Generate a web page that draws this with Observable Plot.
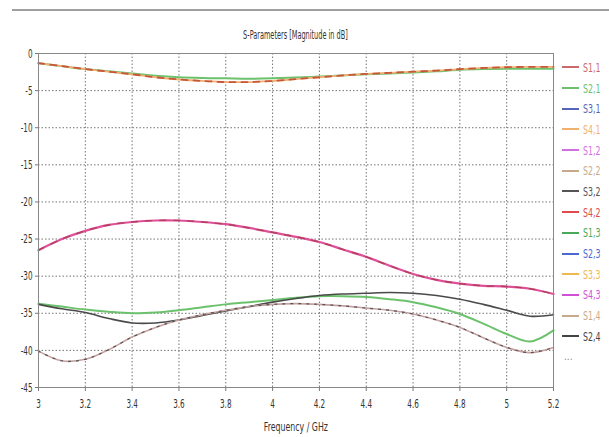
<!DOCTYPE html>
<html>
<head>
<meta charset="utf-8">
<script src="https://cdn.jsdelivr.net/npm/d3@7"></script>
<script src="https://cdn.jsdelivr.net/npm/@observablehq/plot@0.6"></script>
<style>
  html, body { margin: 0; padding: 0; background: #fff; }
  #wrap { position: relative; width: 609px; height: 437px; overflow: hidden;
          font-family: "DejaVu Sans Condensed", "Liberation Sans Narrow", sans-serif; color: #333; }
  #topline { position: absolute; left: 12px; right: 0; top: 9px; height: 2px; background: #a0a0a0; }
  #title { position: absolute; left: 38px; width: 515px; top: 27px; text-align: center; font-size: 13px; color: #333; }
  #title span { display: inline-block; transform: scaleX(0.56); white-space: nowrap; }
  #xlabel { position: absolute; left: 38px; width: 515px; top: 419px; text-align: center; font-size: 13px; color: #333; }
  #xlabel span { display: inline-block; transform: scaleX(0.67); white-space: nowrap; }
  #legend { position: absolute; left: 562px; top: 57px; font-size: 13px; }
  .li { height: 20.7px; display: flex; align-items: center; }
  .sw { width: 17px; height: 2px; margin-right: 4px; flex: none; }
  .lt { display: inline-block; transform: scaleX(0.67); transform-origin: left center; white-space: nowrap; }
  svg { position: absolute; left: 0; top: 0; }
</style>
</head>
<body>
<div id="wrap">
  <div id="topline"></div>
  <div id="title"><span>S-Parameters [Magnitude in dB]</span></div>
  <div id="xlabel"><span>Frequency / GHz</span></div>
  <div id="legend"></div>
</div>
<script>
// Frequencies (GHz)
const freq = [3.0,3.1,3.2,3.3,3.4,3.5,3.6,3.7,3.8,3.9,4.0,4.1,4.2,4.3,4.4,4.5,4.6,4.7,4.8,4.9,5.0,5.1,5.2];

// Curves (dB)
const topGreen   = [-1.3,-1.7,-2.1,-2.4,-2.7,-3.0,-3.2,-3.3,-3.35,-3.4,-3.35,-3.25,-3.1,-2.95,-2.8,-2.7,-2.55,-2.4,-2.2,-2.1,-2.05,-2.05,-2.05];
const topOrange  = [-1.3,-1.7,-2.1,-2.45,-2.8,-3.2,-3.5,-3.7,-3.85,-3.85,-3.7,-3.45,-3.2,-2.95,-2.75,-2.6,-2.45,-2.3,-2.1,-1.95,-1.85,-1.8,-1.8];
const pinkCurve  = [-26.5,-25.0,-23.9,-23.1,-22.7,-22.5,-22.5,-22.7,-23.0,-23.5,-24.1,-24.7,-25.4,-26.4,-27.4,-28.6,-29.7,-30.5,-31.0,-31.3,-31.4,-31.7,-32.4];
const lowGreen   = [-33.7,-34.1,-34.5,-34.8,-35.0,-34.9,-34.6,-34.2,-33.8,-33.5,-33.2,-32.9,-32.7,-32.7,-32.8,-33.1,-33.5,-34.2,-35.1,-36.4,-37.8,-38.8,-37.3];
const darkGray   = [-33.8,-34.4,-34.9,-35.7,-36.3,-36.3,-35.9,-35.3,-34.7,-34.1,-33.5,-33.0,-32.6,-32.4,-32.3,-32.2,-32.3,-32.6,-33.1,-33.8,-34.6,-35.4,-35.2];
const tanCurve   = [-40.1,-41.4,-41.2,-39.9,-38.2,-36.9,-35.9,-35.2,-34.6,-34.1,-33.8,-33.7,-33.8,-34.0,-34.3,-34.6,-35.1,-35.9,-36.9,-38.3,-39.6,-40.3,-39.6];

// Axis ticks
const xTicks = [3,3.2,3.4,3.6,3.8,4,4.2,4.4,4.6,4.8,5,5.2];
const yTicks = [0,-5,-10,-15,-20,-25,-30,-35,-40,-45];

// Legend
const legendNames  = ["S1,1","S2,1","S3,1","S4,1","S1,2","S2,2","S3,2","S4,2","S1,3","S2,3","S3,3","S4,3","S1,4","S2,4"];
const legendColors = ["#c96a6a","#6cbf6c","#5565b8","#f0b070","#d070e0","#c8aa8a","#555555","#e04a4a","#4aa85a","#4a68d0","#f0b850","#d050d8","#c8aa8a","#444444"];

const series = (name, vals) => freq.map((f, i) => ({f, v: vals[i], name}));

const lineOpts = {x: "f", y: "v", curve: "catmull-rom"};

const chart = Plot.plot({
  width: 609, height: 437,
  marginLeft: 38, marginRight: 56, marginTop: 53, marginBottom: 50,
  style: {fontFamily: '"DejaVu Sans Condensed", sans-serif', fontSize: "13px", color: "#333", background: "transparent"},
  x: {domain: [3, 5.2]},
  y: {domain: [-45, 0]},
  marks: [
    Plot.gridX(xTicks, {stroke: "#666", strokeOpacity: 0.9, strokeDasharray: "1.5,2"}),
    Plot.gridY(yTicks, {stroke: "#666", strokeOpacity: 0.9, strokeDasharray: "1.5,2"}),
    Plot.axisX(xTicks, {tickSize: 4, tickPadding: 7, tickFormat: d => String(d), label: null, stroke: "#777"}),
    Plot.axisY(yTicks, {tickSize: 3, tickPadding: 3, tickFormat: d => String(d), label: null, stroke: "#777"}),
    // top group
    Plot.line(series("S2,1", topGreen), {...lineOpts, stroke: "#6cc26c", strokeWidth: 2}),
    Plot.line(series("S4,1", topOrange), {...lineOpts, stroke: "#f0b070", strokeWidth: 1.8}),
    Plot.line(series("S1,1", topOrange), {...lineOpts, stroke: "#c8553d", strokeWidth: 1.8, strokeDasharray: "6,6"}),
    // pink group
    Plot.line(series("S4,3", pinkCurve), {...lineOpts, stroke: "#e0509a", strokeWidth: 2.2}),
    Plot.line(series("S4,2", pinkCurve), {...lineOpts, stroke: "#b0405a", strokeWidth: 1.4, strokeDasharray: "6,8"}),
    // lower group
    Plot.line(series("S1,3", lowGreen), {...lineOpts, stroke: "#6cc26c", strokeWidth: 2}),
    Plot.line(series("S2,4", darkGray), {...lineOpts, stroke: "#4a4a4a", strokeWidth: 1.6}),
    Plot.line(series("S1,4", tanCurve), {...lineOpts, stroke: "#c8a0a0", strokeWidth: 1.6}),
    Plot.line(series("S3,2", tanCurve), {...lineOpts, stroke: "#555", strokeWidth: 1.2, strokeDasharray: "2,6"}),
    Plot.frame({stroke: "#888"})
  ]
});
document.getElementById("wrap").appendChild(chart);

// condense the tick labels like the narrow font of the original
chart.querySelectorAll('g[aria-label$="tick label"] text').forEach(t => {
  const w = t.getComputedTextLength();
  t.setAttribute("textLength", (w * 0.62).toFixed(1));
  t.setAttribute("lengthAdjust", "spacingAndGlyphs");
});

const leg = document.getElementById("legend");
legendNames.forEach((n, i) => {
  const d = document.createElement("div");
  d.className = "li";
  d.innerHTML = `<span class="sw" style="background:${legendColors[i]}"></span><span class="lt" style="color:${legendColors[i]}">${n}</span>`;
  leg.appendChild(d);
});
const more = document.createElement("div");
more.className = "li";
more.style.paddingLeft = "2px";
more.style.color = "#888";
more.style.fontSize = "10px";
more.textContent = "...";
leg.appendChild(more);
</script>
</body>
</html>
